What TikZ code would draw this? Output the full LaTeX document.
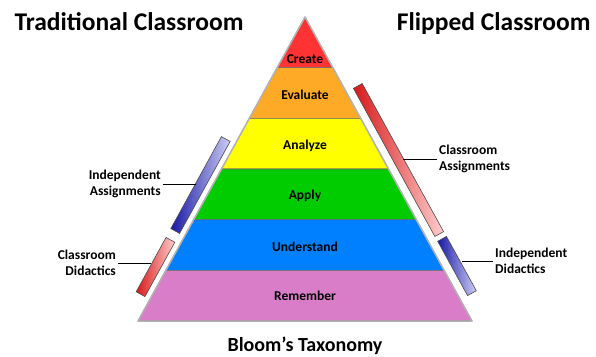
\documentclass[tikz,border=0pt]{standalone}
\usepackage{fontspec}
\setmainfont{Carlito}
\usepackage{tikz}
\usetikzlibrary{calc}
\definecolor{lvlcreate}{RGB}{255,51,51}
\definecolor{lvlevaluate}{RGB}{255,170,38}
\definecolor{lvlanalyze}{RGB}{255,255,0}
\definecolor{lvlapply}{RGB}{0,204,0}
\definecolor{lvlunderstand}{RGB}{0,128,255}
\definecolor{lvlremember}{RGB}{218,125,200}
\definecolor{bardarkblue}{RGB}{25,25,165}
\definecolor{barlightblue}{RGB}{205,205,245}
\definecolor{bardarkred}{RGB}{215,25,25}
\definecolor{barlightred}{RGB}{255,205,205}
\tikzset{
	bar/.style={draw=black!70,line width=0.6pt,minimum height=10pt,inner sep=0pt},
	side/.style={font=\fontsize{13.5}{16}\selectfont\bfseries,inner sep=2pt},
	level/.style={font=\fontsize{13.5}{16}\selectfont\bfseries,anchor=base},
	conn/.style={black,line width=0.8pt}
}

\begin{document}
\begin{tikzpicture}[x=1pt,y=-1pt]
		\useasboundingbox (0,0) rectangle (596,356);
		\coordinate (top) at (305,17);
		\coordinate (bl) at (138,321);
		\coordinate (br) at (472,321);
		\foreach \name/\col/\by [count=\i] in {Create/lvlcreate/63,Evaluate/lvlevaluate/99,Analyze/lvlanalyze/149,Apply/lvlapply/199,Understand/lvlunderstand/251,Remember/lvlremember/300}
		{
			\pgfmathparse{(\i-1)/6}
			\edef\ta{\pgfmathresult}
			\pgfmathparse{\i/6}
			\edef\tb{\pgfmathresult}
			\draw[black!60,line width=0.6pt,fill=\col] ($(top)!\ta!(bl)$) -- ($(top)!\tb!(bl)$) -- ($(top)!\tb!(br)$) -- ($(top)!\ta!(br)$) -- cycle;
			\node[level] (lvl\i) at (305,\by) {\name};
		}
		\draw[gray!60,line width=1.5pt,line join=round] (top) -- (bl) -- (br) -- cycle;
		\node[bar,rotate=61.2,minimum width=105pt,left color=bardarkblue,right color=barlightblue] (iabar) at (200.5,185) {};
		\node[bar,rotate=61.2,minimum width=62pt,left color=bardarkred,right color=barlightred] (cdbar) at (155.5,267) {};
		\node[bar,rotate=-61.2,minimum width=169pt,left color=bardarkred,right color=barlightred] (cabar) at (398.5,160) {};
		\node[bar,rotate=-61.2,minimum width=62pt,left color=bardarkblue,right color=barlightblue] (idbar) at (457,266) {};
		\node[side,align=right,anchor=east] (ialbl) at (163,184) {Independent\\Assignments};
		\node[side,align=right,anchor=east] (cdlbl) at (118,263) {Classroom\\Didactics};
		\node[side,align=left,anchor=west] (calbl) at (437,159) {Classroom\\Assignments};
		\node[side,align=left,anchor=west] (idlbl) at (493,261) {Independent\\Didactics};
		\draw[conn] (ialbl.east) -- (ialbl.east -| iabar.north);
		\draw[conn] (cdlbl.east) -- (cdlbl.east -| cdbar.north);
		\draw[conn] (calbl.west) -- (calbl.west -| cabar.north);
		\draw[conn] (idlbl.west) -- (idlbl.west -| idbar.north);
		\node[font=\fontsize{25.5}{30}\selectfont\bfseries,anchor=base west] (trad) at (11,30) {Traditional Classroom};
		\node[font=\fontsize{25.5}{30}\selectfont\bfseries,anchor=base east] (flip) at (594,30) {Flipped Classroom};
		\node[font=\fontsize{20}{24}\selectfont\bfseries,anchor=base,inner sep=0pt] (bloom) at (305,351) {Bloom's Taxonomy};
\end{tikzpicture}
\end{document}
